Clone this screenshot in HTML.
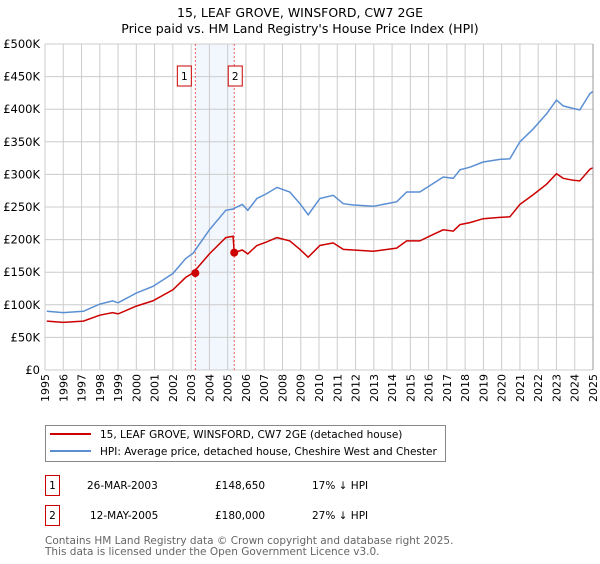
<!DOCTYPE html>
<html><head><meta charset="utf-8"><style>
body{margin:0;background:#fff;font-family:"DejaVu Sans","Liberation Sans",sans-serif}
svg text{font-family:"DejaVu Sans","Liberation Sans",sans-serif}
</style></head><body>
<svg id="chart" width="600" height="560" xmlns="http://www.w3.org/2000/svg">
<text x="300" y="17" text-anchor="middle" font-size="12.5">15, LEAF GROVE, WINSFORD, CW7 2GE</text>
<text x="300" y="33" text-anchor="middle" font-size="12.5">Price paid vs. HM Land Registry's House Price Index (HPI)</text>
<g id="grid"></g>
<g id="marks"></g>
<g id="axes"></g>
<g>
<rect x="45.5" y="425.5" width="400" height="36" fill="#fff" stroke="#888"/>
<line x1="50" y1="434" x2="91" y2="434" stroke="#cc0000" stroke-width="2"/>
<text x="100" y="438" font-size="10.5">15, LEAF GROVE, WINSFORD, CW7 2GE (detached house)</text>
<line x1="50" y1="451" x2="91" y2="451" stroke="#5b8fd4" stroke-width="2"/>
<text x="100" y="455" font-size="10.5">HPI: Average price, detached house, Cheshire West and Chester</text>
</g>
<g font-size="10.5">
<rect x="45.5" y="475.5" width="14" height="20" fill="none" stroke="#cc0000"/>
<text x="52.5" y="489" text-anchor="middle">1</text>
<text x="87" y="489">26-MAR-2003</text><text x="215" y="489">£148,650</text><text x="312" y="489">17% ↓ HPI</text>
<rect x="45.5" y="505.5" width="14" height="20" fill="none" stroke="#cc0000"/>
<text x="52.5" y="519" text-anchor="middle">2</text>
<text x="90" y="519">12-MAY-2005</text><text x="215" y="519">£180,000</text><text x="312" y="519">27% ↓ HPI</text>
</g>
<text x="45" y="544" font-size="10.5" fill="#666">Contains HM Land Registry data © Crown copyright and database right 2025.</text>
<text x="45" y="555" font-size="10.5" fill="#666">This data is licensed under the Open Government Licence v3.0.</text>
</svg>
<script>
const years=[1995.1,1996,1997.1,1998,1998.7,1999,2000,2000.9,2002,2002.7,2003.1,2004,2004.9,2005.3,2005.36,2005.8,2006.1,2006.6,2007.1,2007.7,2008.4,2008.96,2009.41,2010.05,2010.78,2011.33,2011.87,2012.97,2014.25,2014.8,2015.52,2016.25,2016.8,2017.35,2017.72,2018.26,2018.99,2019.9,2020.45,2021,2021.73,2022.46,2023,2023.37,2023.92,2024.28,2024.83,2024.98];
const hpiValues=[90,88,90,101,106,103,118,128,148,171,179,215,245,247,248,254,245,263,270,280,273,255,238,263,268,255,253,251,258,273,273,286,296,294,307,311,319,323,324,350,370,393,414,405,401,399,424,427];
const propertyValues=[75,73,75,84,88,86,98,106,123,142,149,178,203,205,180,184,178,191,196,203,198,185,173,191,195,185,184,182,187,198,198,208,215,213,223,226,232,234,235,254,269,285,301,294,291,290,308,310];
const saleYears=[2003.23,2005.36];
const saleValues=[148.65,180];
const saleLabels=["1","2"];
const yTicks=[0,50,100,150,200,250,300,350,400,450,500];
const yTickLabels=["£0","£50K","£100K","£150K","£200K","£250K","£300K","£350K","£400K","£450K","£500K"];
const xTicks=[1995,1996,1997,1998,1999,2000,2001,2002,2003,2004,2005,2006,2007,2008,2009,2010,2011,2012,2013,2014,2015,2016,2017,2018,2019,2020,2021,2022,2023,2024,2025];
const NS="http://www.w3.org/2000/svg";
const X=y=>45+(y-1995)*(548/30);
const Y=v=>370-v*(326/500);
function mk(tag,attrs,parent){const e=document.createElementNS(NS,tag);for(const k in attrs)e.setAttribute(k,attrs[k]);parent.appendChild(e);return e;}
const grid=document.getElementById('grid'),marks=document.getElementById('marks'),axes=document.getElementById('axes');
mk('rect',{x:45,y:44,width:548,height:326,fill:'#fff'},grid);
const band=mk('rect',{x:X(saleYears[0]),y:44,width:X(saleYears[1])-X(saleYears[0]),height:326,fill:'#f2f6fd'},grid);


xTicks.forEach(t=>{const l=mk('line',{x1:X(t),x2:X(t),y1:44,y2:370,stroke:'#ccc'},grid);


const tx=mk('text',{x:0,y:0,'font-size':11,'text-anchor':'end',transform:`translate(${X(t)+4},374) rotate(-90)`},axes);tx.textContent=t;

});
yTicks.forEach((t,i)=>{const l=mk('line',{x1:45,x2:593,y1:Y(t),y2:Y(t),stroke:'#ccc'},grid);


const tx=mk('text',{x:40,y:Y(t)+4,'font-size':11.5,'text-anchor':'end'},axes);tx.textContent=yTickLabels[i];

});
saleYears.forEach((s,i)=>{const l=mk('line',{x1:X(s),x2:X(s),y1:44,y2:370,stroke:'#f06060','stroke-dasharray':'2,2'},marks);


const bx=X(s)-(i==0?11:-1);
const r=mk('rect',{x:bx-7,y:66,width:14,height:20,fill:'#fff',stroke:'#cc0000'},marks);


const t=mk('text',{x:bx,y:80,'font-size':10.5,'text-anchor':'middle'},marks);t.textContent=saleLabels[i];});
function line(vals,color,name){const d=vals.map((v,i)=>(i?'L':'M')+X(years[i]).toFixed(1)+','+Y(v).toFixed(1)).join('');
const p=mk('path',{d:d,fill:'none',stroke:color,'stroke-width':1.5},marks);

}
line(hpiValues,'#5b8fd4','hpi-line');
line(propertyValues,'#cc0000','property-line');
saleYears.forEach((s,i)=>{const c=mk('circle',{cx:X(s),cy:Y(saleValues[i]),r:4,fill:'#cc0000'},marks);

});
mk('line',{x1:593,x2:593,y1:44,y2:370,stroke:'#999'},axes);
</script>
</body></html>
